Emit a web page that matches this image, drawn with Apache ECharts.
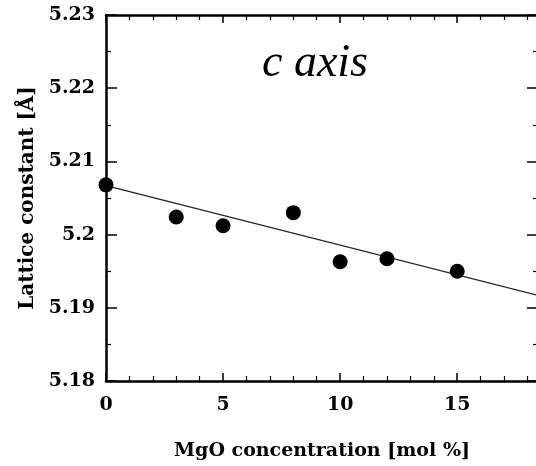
<!DOCTYPE html>
<html>
<head>
<meta charset="utf-8">
<script src="https://cdn.jsdelivr.net/npm/echarts@6/dist/echarts.min.js"></script>
<style>
  html, body { margin: 0; padding: 0; background: #fff; overflow: hidden; }
  #chart { width: 536px; height: 466px; }
</style>
</head>
<body>
<div id="chart"></div>
<script>
// measured points (MgO mol %, lattice constant c in Å)
const mgo = [0, 3, 5, 8, 10, 12, 15];
const latticeC = [5.2068, 5.2024, 5.2012, 5.2030, 5.1963, 5.1967, 5.1950];
// linear fit line end points
const fitX = [0, 18.45];
const fitY = [5.2067, 5.1917];
const yTicks = [5.18, 5.19, 5.2, 5.21, 5.22, 5.23];
const xTicks = [0, 5, 10, 15];

const serif = '"Liberation Serif", "DejaVu Serif", serif';
const boldSerif = '"DejaVu Serif", "Liberation Serif", serif';

const chart = echarts.init(document.getElementById('chart'));

function axisBase(show) {
  return {
    axisLine: { show: true, onZero: false, lineStyle: { color: '#000', width: 2.5 } },
    splitLine: { show: false },
    axisLabel: {
      show: show, color: '#000', fontFamily: boldSerif, fontWeight: 'bold', fontSize: 19
    }
  };
}

const option = {
  animation: false,
  title: {
    text: 'c axis',
    left: 257,
    top: 36,
    textStyle: { fontFamily: serif, fontStyle: 'italic', fontWeight: 'normal', fontSize: 46, color: '#000' }
  },
  grid: { left: 106, top: 15, right: -2, bottom: 85, containLabel: false, outerBoundsMode: 'none' },
  xAxis: [
    Object.assign(axisBase(true), {
      type: 'value', min: 0, max: fitX[1], interval: 5,
      axisTick: { inside: true, length: 8, lineStyle: { color: '#000', width: 1.5 } },
      minorTick: { show: true, splitNumber: 5, length: 5, lineStyle: { color: '#000', width: 1.2 } },
      name: 'MgO concentration [mol %]', nameLocation: 'middle', nameGap: 61,
      nameTextStyle: { fontFamily: boldSerif, fontWeight: 'bold', fontSize: 19, color: '#000' },
      axisLabel: {
        color: '#000', fontFamily: boldSerif, fontWeight: 'bold', fontSize: 19, margin: 15,
        showMaxLabel: false,
        formatter: v => (xTicks.indexOf(v) >= 0 ? String(v) : '')
      }
    }),
    Object.assign(axisBase(false), {
      type: 'value', position: 'top', min: 0, max: fitX[1], interval: 5,
      axisTick: { inside: true, length: 8, lineStyle: { color: '#000', width: 1.5 } },
      minorTick: { show: true, splitNumber: 5, length: 5, lineStyle: { color: '#000', width: 1.2 } }
    })
  ],
  yAxis: [
    Object.assign(axisBase(true), {
      type: 'value', min: yTicks[0], max: yTicks[yTicks.length - 1], interval: 0.01,
      axisTick: { inside: true, length: 11, lineStyle: { color: '#000', width: 1.5 } },
      minorTick: { show: true, splitNumber: 2, length: 5, lineStyle: { color: '#000', width: 1.2 } },
      name: 'Lattice constant [Å]', nameLocation: 'middle', nameGap: 68,
      nameTextStyle: { fontFamily: boldSerif, fontWeight: 'bold', fontSize: 20, color: '#000' },
      axisLabel: {
        color: '#000', fontFamily: boldSerif, fontWeight: 'bold', fontSize: 19, margin: 11,
        formatter: v => String(+v.toFixed(2))
      }
    }),
    Object.assign(axisBase(false), {
      type: 'value', position: 'right', min: yTicks[0], max: yTicks[yTicks.length - 1], interval: 0.01,
      axisTick: { inside: true, length: 11, lineStyle: { color: '#000', width: 1.5 } },
      minorTick: { show: true, splitNumber: 2, length: 5, lineStyle: { color: '#000', width: 1.2 } }
    })
  ],
  series: [
    {
      type: 'line',
      data: fitX.map((x, i) => [x, fitY[i]]),
      symbol: 'none',
      lineStyle: { color: '#222', width: 1.2 },
      z: 2
    },
    {
      type: 'scatter',
      data: mgo.map((x, i) => [x, latticeC[i]]),
      symbol: 'circle',
      symbolSize: 15,
      itemStyle: { color: '#000', opacity: 1 },
      z: 3
    }
  ]
};

chart.setOption(option);
</script>
</body>
</html>
